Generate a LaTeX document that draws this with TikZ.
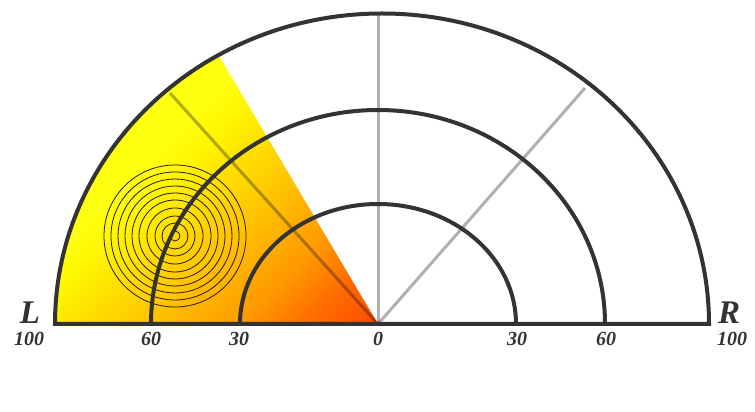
\documentclass[tikz,border=0pt]{standalone}
\usepackage{fontspec}
\setmainfont{Liberation Serif}
\usepackage{tikz}
\definecolor{scalegray}{HTML}{333333}
\definecolor{hot}{HTML}{FF4A00}
\definecolor{hotA}{HTML}{FF6A00}
\definecolor{hotB}{HTML}{FF9A00}
\definecolor{hotC}{HTML}{FFC000}
\definecolor{hotD}{HTML}{FFDD00}
\definecolor{hotE}{HTML}{FFF500}
\definecolor{cold}{HTML}{FFFF10}
\pgfdeclarehorizontalshading{wedgefill}{100bp}{%
  color(0bp)=(hot); color(50bp)=(hot); color(53.1bp)=(hotA);
  color(56.25bp)=(hotB); color(60bp)=(hotC); color(63.1bp)=(hotD);
  color(65.6bp)=(hotE); color(67.5bp)=(cold); color(100bp)=(cold)}

\begin{document}
\begin{tikzpicture}[x=1pt,y=1pt,
    arcline/.style={line width=4pt,draw=scalegray},
    ray/.style={line width=3pt,draw=black,draw opacity=0.31},
    ring/.style={line width=0.8pt,draw=black!80!brown},
    tick/.style={inner sep=1pt,font=\bfseries\itshape\fontsize{20}{20}\selectfont,text=scalegray},
    side/.style={inner sep=0pt,font=\bfseries\itshape\fontsize{33}{33}\selectfont,text=scalegray}]
        \useasboundingbox (0,0) rectangle (755,412);
        \coordinate (O) at (378,88);
        \coordinate (OL) at (55,88);
        \coordinate (OR) at (709,88);
        \coordinate (top) at (378,397);
        \coordinate (diagR) at (585,324);
        \coordinate (diagL) at (170,319);

        % coloured sector
        \begin{scope}
            \clip (O) -- (OL) arc[start angle=180,end angle=120,x radius=327,y radius=310.5] -- cycle;
            \shade[shading=wedgefill,shading angle=135] (O) ++(-400,-400) rectangle ++(800,800);
        \end{scope}

        \draw[ray] (O) -- (top);
        \draw[ray] (O) -- (diagR);
        \draw[ray] (O) -- (diagL);

        \foreach \r in {5,13,20,28,36,43,50,57,64,71}
            \draw[ring] (175,176) circle (\r);

        \draw[arcline] (240,88) arc[start angle=180,end angle=0,x radius=138,y radius=120];
        \draw[arcline] (151,88) arc[start angle=180,end angle=0,x radius=227,y radius=214];
        \draw[arcline] (OL) arc[start angle=180,end angle=0,x radius=327,y radius=310.5] -- cycle;

        \node[side] (L) at (30,99) {L};
        \node[side] (R) at (729,99) {R};
        \node[tick] (l100) at (29,73) {100};
        \node[tick] (l60) at (151,73) {60};
        \node[tick] (l30) at (239,73) {30};
        \node[tick] (zero) at (378,73) {0};
        \node[tick] (r30) at (517,73) {30};
        \node[tick] (r60) at (606,73) {60};
        \node[tick] (r100) at (732,73) {100};
    \end{tikzpicture}
\end{document}
